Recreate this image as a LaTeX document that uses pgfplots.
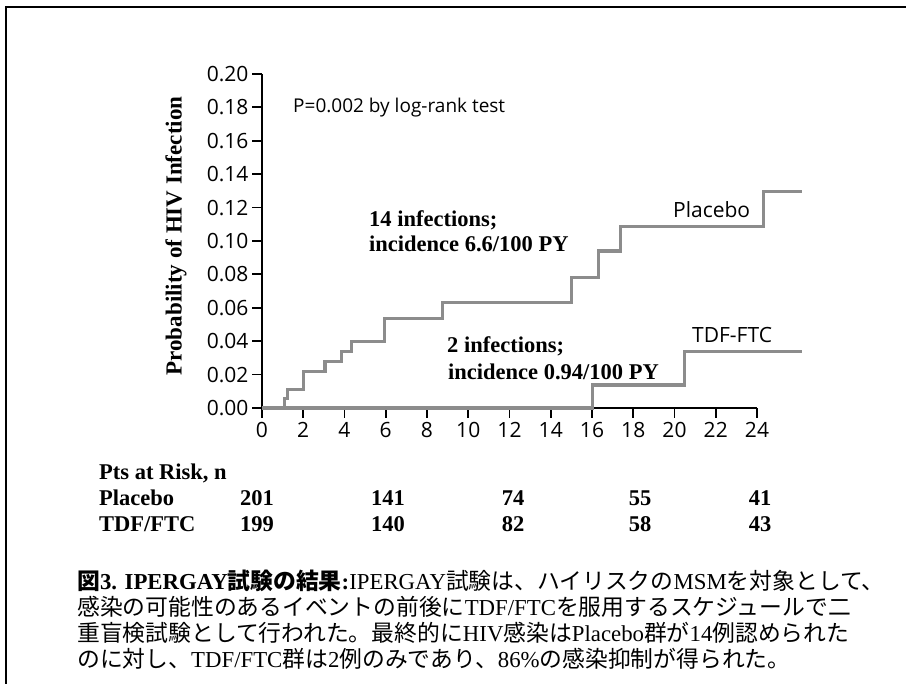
\documentclass[border=0pt]{standalone}
\usepackage{fontspec}
\setmainfont{Liberation Serif}
\newfontfamily\osans{Open Sans}
\newfontfamily\cjk{Noto Sans CJK JP}
\usepackage{pgfplots}
\pgfplotsset{compat=1.18}
\definecolor{curve}{RGB}{140,140,140}
\newcommand\fs[1]{\fontsize{#1}{#1}\selectfont}

\begin{document}
\begin{tikzpicture}[x=1pt,y=1pt]
\useasboundingbox (0,0) rectangle (906,684);
\fill[white] (0,0) rectangle (906,684);
\draw[line width=2.5pt] (6,0) -- (6,677) -- (906,677);

\begin{axis}[
  at={(262pt,276pt)}, anchor=south west,
  scale only axis, width=495pt, height=334pt,
  xmin=0, xmax=24, ymin=0, ymax=0.2,
  axis x line*=bottom, axis y line*=left,
  axis line style={line width=1.8pt,-},
  tick align=outside, major tick length=10pt,
  tick style={line width=1.8pt, black},
  xtick={0,2,4,6,8,10,12,14,16,18,20,22,24},
  ytick={0,0.02,0.04,0.06,0.08,0.10,0.12,0.14,0.16,0.18,0.20},
  /pgf/number format/assume math mode=true,
  yticklabel style={/pgf/number format/.cd, fixed, fixed zerofill, precision=2, /tikz/.cd},
  ticklabel style={font=\osans\fs{21}},
  xticklabel style={yshift=-1pt},
  clip=false,
]
\addplot[curve, line width=3.3pt, const plot] coordinates {
  (0,0) (1.08,0.0058) (1.25,0.011) (2.0,0.022) (3.05,0.028) (3.86,0.034)
  (4.35,0.040) (5.93,0.0535) (8.76,0.063) (15.0,0.078) (16.3,0.094)
  (17.38,0.1085) (24.3,0.1295) (26.17,0.1295)
};
\addplot[curve, line width=3.3pt, const plot] coordinates {
  (0,0) (16.03,0.0138) (20.5,0.0337) (26.17,0.0337)
};
\end{axis}

% y label
\node[rotate=90, font=\bfseries\fs{23}] at (176,448) {Probability of HIV Infection};

% annotations
\node[anchor=base west, inner sep=0, font=\osans\fs{19}] at (293,571) {P=0.002 by log-rank test};
\node[anchor=base west, inner sep=0, font=\bfseries\fs{22.5}] at (369,457) {14 infections;};
\node[anchor=base west, inner sep=0, font=\bfseries\fs{22.5}] at (369,432) {incidence 6.6/100 PY};
\node[anchor=base west, inner sep=0, font=\bfseries\fs{22.5}] at (447,331) {2 infections;};
\node[anchor=base west, inner sep=0, font=\bfseries\fs{22.5}] at (448,304) {incidence 0.94/100 PY};
\node[anchor=base west, inner sep=0, font=\osans\fs{21}] at (673,466) {Placebo};
\node[anchor=base west, inner sep=0, font=\osans\fs{21}] at (692,341) {TDF-FTC};

% at-risk table
\begin{scope}[every node/.style={anchor=base west, inner sep=0, font=\bfseries\fs{22.5}}]
\node at (99,204) {Pts at Risk, n};
\node at (99,178) {Placebo};
\node at (99,152) {TDF/FTC};
\end{scope}
\begin{scope}[every node/.style={anchor=base, inner sep=0, font=\bfseries\fs{22.5}}]
\node at (257,178) {201};
\node at (388,178) {141};
\node at (513,178) {74};
\node at (640,178) {55};
\node at (760,178) {41};
\node at (257,152) {199};
\node at (388,152) {140};
\node at (513,152) {82};
\node at (640,152) {58};
\node at (760,152) {43};
\end{scope}

% caption
\begin{scope}[every node/.style={anchor=base west, inner sep=0, font=\fs{22.8}}]
\node at (77,94) {{\cjk\bfseries 図}{\bfseries 3. IPERGAY}{\cjk\bfseries 試験の結果}{\bfseries :}IPERGAY{\cjk 試験は、ハイリスクの}MSM{\cjk を対象として、}};
\node at (77,68) {{\cjk 感染の可能性のあるイベントの前後に}TDF/FTC{\cjk を服用するスケジュールで二}};
\node at (77,42) {{\cjk 重盲検試験として行われた。最終的に}HIV{\cjk 感染は}Placebo{\cjk 群が}14{\cjk 例認められた}};
\node at (77,16) {{\cjk のに対し、}TDF/FTC{\cjk 群は}2{\cjk 例のみであり、}86\%{\cjk の感染抑制が得られた。}};
\end{scope}
\end{tikzpicture}
\end{document}
